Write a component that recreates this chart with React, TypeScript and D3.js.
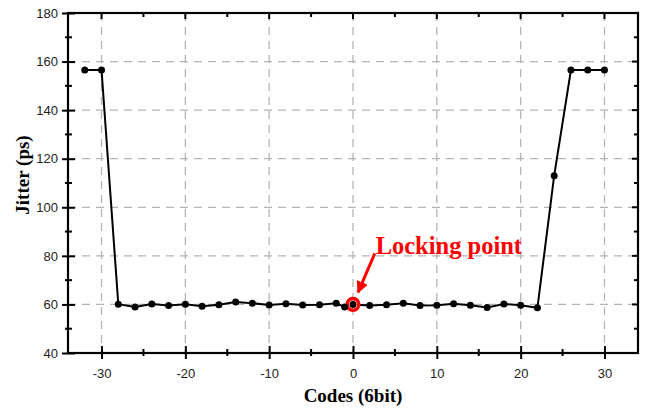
import React, { useEffect, useRef } from 'react';
import * as d3 from 'd3';

const codes = [-32, -30, -28, -26, -24, -22, -20, -18, -16, -14, -12, -10, -8, -6, -4, -2, -1, 0,
  2, 4, 6, 8, 10, 12, 14, 16, 18, 20, 22, 24, 26, 28, 30];
const jitter = [156.5, 156.5, 60.1, 58.9, 60.2, 59.6, 60.1, 59.3, 59.9, 61.0, 60.5, 59.8, 60.3, 59.8, 59.9, 60.5, 58.9, 60.0,
  59.6, 59.9, 60.5, 59.6, 59.7, 60.3, 59.7, 58.7, 60.2, 59.7, 58.6, 113, 156.5, 156.5, 156.5];
const xTicks = [-30, -20, -10, 0, 10, 20, 30];
const yTicks = [40, 60, 80, 100, 120, 140, 160, 180];
const lockCode = 0;
const lockLabel = 'Locking point';

const App = () => {
  const ref = useRef<SVGSVGElement>(null);

  useEffect(() => {
    const svg = d3.select(ref.current);
    svg.selectAll('*').remove();

    const left = 68, right = 638, top = 13, bottom = 353;
    const x = d3.scaleLinear().domain([-34, 34]).range([left, right]);
    const y = d3.scaleLinear().domain([40, 180]).range([bottom, top]);
    const font = '"Liberation Sans", Arial, sans-serif';
    const serif = '"Liberation Serif", "Times New Roman", serif';

    // dashed grid
    const grid = svg.append('g').attr('stroke', '#b4b4b4').attr('stroke-width', 1.3).attr('stroke-dasharray', '8,6');
    xTicks.forEach(t => {
      grid.append('line').attr('x1', x(t)).attr('x2', x(t)).attr('y1', top).attr('y2', bottom);
    });
    yTicks.filter(t => t > 40 && t < 180).forEach(t => {
      grid.append('line').attr('x1', left).attr('x2', right).attr('y1', y(t)).attr('y2', y(t));
    });

    // bottom axis
    const bottomAxis = svg.append('g').attr('transform', `translate(0,${bottom})`)
      .call(d3.axisBottom(x).tickValues(xTicks).tickFormat(d => String(d)).tickSizeInner(6).tickSizeOuter(0).tickPadding(10));
    bottomAxis.selectAll('.tick line').attr('y1', -7).attr('stroke-width', 2);
    bottomAxis.selectAll('text').attr('font-family', font).attr('font-size', 13).attr('fill', '#222');
    bottomAxis.select('.domain').remove();
    svg.append('g').selectAll('line').data(d3.range(-25, 30, 10)).enter().append('line')
      .attr('x1', d => x(d)).attr('x2', d => x(d)).attr('y1', bottom - 4).attr('y2', bottom + 3)
      .attr('stroke', '#000').attr('stroke-width', 2);

    // left axis
    const leftAxis = svg.append('g').attr('transform', `translate(${left},0)`)
      .call(d3.axisLeft(y).tickValues(yTicks).tickSizeInner(6).tickSizeOuter(0).tickPadding(4));
    leftAxis.selectAll('.tick line').attr('x1', 7).attr('stroke-width', 2);
    leftAxis.selectAll('text').attr('font-family', font).attr('font-size', 13).attr('fill', '#222');
    leftAxis.select('.domain').remove();
    svg.append('g').selectAll('line').data(d3.range(50, 180, 20)).enter().append('line')
      .attr('x1', left - 3).attr('x2', left + 4).attr('y1', d => y(d)).attr('y2', d => y(d))
      .attr('stroke', '#000').attr('stroke-width', 2);

    // top and right ticks (inward)
    svg.append('g').selectAll('line').data(d3.range(-30, 31, 5)).enter().append('line')
      .attr('x1', d => x(d)).attr('x2', d => x(d)).attr('y1', top).attr('y2', d => top + (d % 10 === 0 ? 6 : 4))
      .attr('stroke', '#000').attr('stroke-width', 2);
    svg.append('g').selectAll('line').data(d3.range(50, 180, 10)).enter().append('line')
      .attr('x1', right).attr('x2', d => right - (d % 20 === 0 ? 6 : 4)).attr('y1', d => y(d)).attr('y2', d => y(d))
      .attr('stroke', '#000').attr('stroke-width', 2);

    // frame
    svg.append('rect').attr('x', left).attr('y', top).attr('width', right - left).attr('height', bottom - top)
      .attr('fill', 'none').attr('stroke', '#000').attr('stroke-width', 2.2);

    // data line
    const pts = codes.map((c, i) => [c, jitter[i]] as [number, number]);
    svg.append('path').datum(pts)
      .attr('d', d3.line<[number, number]>().x(d => x(d[0])).y(d => y(d[1])))
      .attr('fill', 'none').attr('stroke', '#000').attr('stroke-width', 2);

    // locking point ring
    const li = codes.indexOf(lockCode);
    svg.append('circle').attr('cx', x(lockCode)).attr('cy', y(jitter[li])).attr('r', 5.8)
      .attr('fill', '#fff').attr('stroke', '#f00').attr('stroke-width', 3.6);

    svg.append('g').selectAll('circle').data(pts).enter().append('circle')
      .attr('cx', d => x(d[0])).attr('cy', d => y(d[1])).attr('r', 3.5).attr('fill', '#000');

    // annotation
    const defs = svg.append('defs');
    defs.append('marker').attr('id', 'ah').attr('viewBox', '0 0 10 10').attr('refX', 9).attr('refY', 5)
      .attr('markerWidth', 4).attr('markerHeight', 4).attr('orient', 'auto')
      .append('path').attr('d', 'M0,0 L10,5 L0,10 Z').attr('fill', '#f00');
    svg.append('line').attr('x1', x(2.6)).attr('y1', y(81)).attr('x2', x(0.6)).attr('y2', y(65))
      .attr('stroke', '#f00').attr('stroke-width', 3).attr('marker-end', 'url(#ah)');
    svg.append('text').attr('x', x(2.7)).attr('y', y(80.9)).text(lockLabel)
      .attr('font-family', serif).attr('font-weight', 'bold').attr('font-size', 24.5).attr('fill', '#f00');

    // axis titles
    svg.append('text').attr('x', (left + right) / 2 + 0).attr('y', 402).attr('text-anchor', 'middle')
      .attr('font-family', serif).attr('font-weight', 'bold').attr('font-size', 19).text('Codes (6bit)');
    svg.append('text').attr('transform', `translate(29,${175}) rotate(-90)`).attr('text-anchor', 'middle')
      .attr('font-family', serif).attr('font-weight', 'bold').attr('font-size', 19).text('Jitter (ps)');
  }, []);

  return (
    <svg ref={ref} width={646} height={409}
      style={{ position: 'absolute', left: 0, top: 0, background: '#fff' }} />
  );
};

export default App;
